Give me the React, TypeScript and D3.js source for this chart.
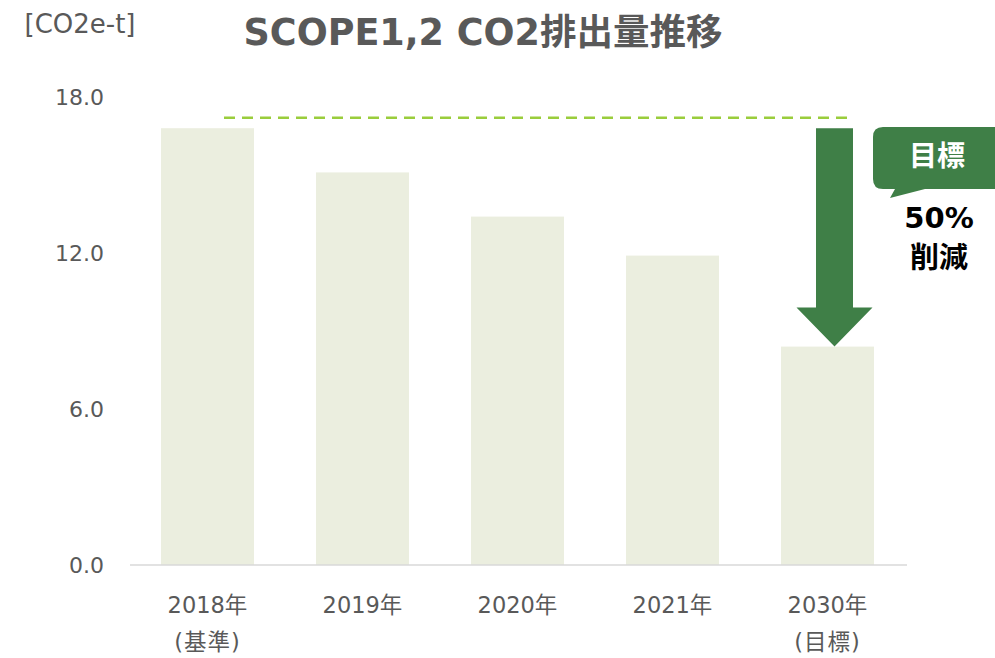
import React from "react";
import * as d3 from "d3";

const categories = ["2018年", "2019年", "2020年", "2021年", "2030年"];
const subLabels = ["(基準)", "", "", "", "(目標)"];
const values = [16.8, 15.1, 13.4, 11.9, 8.4];
const yTicks = [0, 6, 12, 18];
const targetLine = 17.2;
const title = "SCOPE1,2 CO2排出量推移";
const unitLabel = "[CO2e-t]";
const calloutTitle = "目標";
const calloutLines = ["50%", "削減"];

const W = 995;
const H = 658;
const FONT = "Verdana, 'DejaVu Sans', 'Noto Sans CJK JP', sans-serif";

export default function App() {
  const x = d3
    .scaleBand<string>()
    .domain(categories)
    .range([130, 905])
    .paddingInner(0.4)
    .paddingOuter(0.2);
  const y = d3.scaleLinear().domain([0, 18]).range([565, 97]);

  const first = categories[0];
  const last = categories[categories.length - 1];
  const lastX = (x(last) ?? 0) + x.bandwidth() / 2 + 7;
  const arrowTop = y(values[0]);
  const arrowTip = y(values[values.length - 1]);
  const shaftHalf = 18.5;
  const headHalf = 38;
  const headLen = 39;
  const arrowPath = [
    [lastX - shaftHalf, arrowTop],
    [lastX + shaftHalf, arrowTop],
    [lastX + shaftHalf, arrowTip - headLen],
    [lastX + headHalf, arrowTip - headLen],
    [lastX, arrowTip],
    [lastX - headHalf, arrowTip - headLen],
    [lastX - shaftHalf, arrowTip - headLen],
  ];
  const arrowD = d3.line()(arrowPath as [number, number][]) + "Z";

  const cx = 873, cy = 127, cw = 140, ch = 62, r = 10;
  const calloutD = `M${cx + r},${cy} H${cx + cw - r} Q${cx + cw},${cy} ${cx + cw},${cy + r} V${cy + ch - r} Q${cx + cw},${cy + ch} ${cx + cw - r},${cy + ch} H${cx + 52} L${cx + 17},${cy + 71} L${cx + 22},${cy + ch} H${cx + r} Q${cx},${cy + ch} ${cx},${cy + ch - r} V${cy + r} Q${cx},${cy} ${cx + r},${cy} Z`;

  return (
    <svg width={W} height={H} style={{ display: "block", position: "absolute", left: 0, top: 0 }} fontFamily={FONT}>
      <rect width={W} height={H} fill="#ffffff" />
      <text x={80} y={33} textAnchor="middle" fontSize={26} fill="#595959">{unitLabel}</text>
      <text x={483} y={45} textAnchor="middle" fontSize={36.5} fontWeight="bold" fill="#595959">{title}</text>

      {yTicks.map((t) => (
        <text key={t} x={104} y={y(t)} dy="0.35em" textAnchor="end" fontSize={22} fill="#595959">
          {t.toFixed(1)}
        </text>
      ))}

      {categories.map((c, i) => (
        <rect key={c} x={x(c)} y={y(values[i])} width={x.bandwidth()} height={y(0) - y(values[i])} fill="#ebeedf" />
      ))}

      <line x1={130} x2={907} y1={y(0)} y2={y(0)} stroke="#d9d9d9" strokeWidth={1.5} />

      {categories.map((c, i) => (
        <g key={c + "l"}>
          <text x={(x(c) ?? 0) + x.bandwidth() / 2} y={613} textAnchor="middle" fontSize={22.5} fill="#595959">{c}</text>
          {subLabels[i] && (
            <text x={(x(c) ?? 0) + x.bandwidth() / 2} y={650} textAnchor="middle" fontSize={22.5} fill="#595959" letterSpacing={1}>{subLabels[i]}</text>
          )}
        </g>
      ))}

      <line
        x1={(x(first) ?? 0) + 63}
        x2={(x(last) ?? 0) + x.bandwidth() - 25}
        y1={y(targetLine)}
        y2={y(targetLine)}
        stroke="#9acd3c"
        strokeWidth={2.5}
        strokeDasharray="11 7"
      />

      <path d={arrowD} fill="#3f7f47" />

      <path d={calloutD} fill="#3f7f47" />
      <text x={937} y={156} dy="0.35em" textAnchor="middle" fontSize={28} fontWeight="bold" fill="#ffffff">{calloutTitle}</text>
      {calloutLines.map((l, i) => (
        <text key={l} x={939} y={228 + i * 40} textAnchor="middle" fontSize={29} fontWeight="bold" fill="#000000">{l}</text>
      ))}
    </svg>
  );
}
